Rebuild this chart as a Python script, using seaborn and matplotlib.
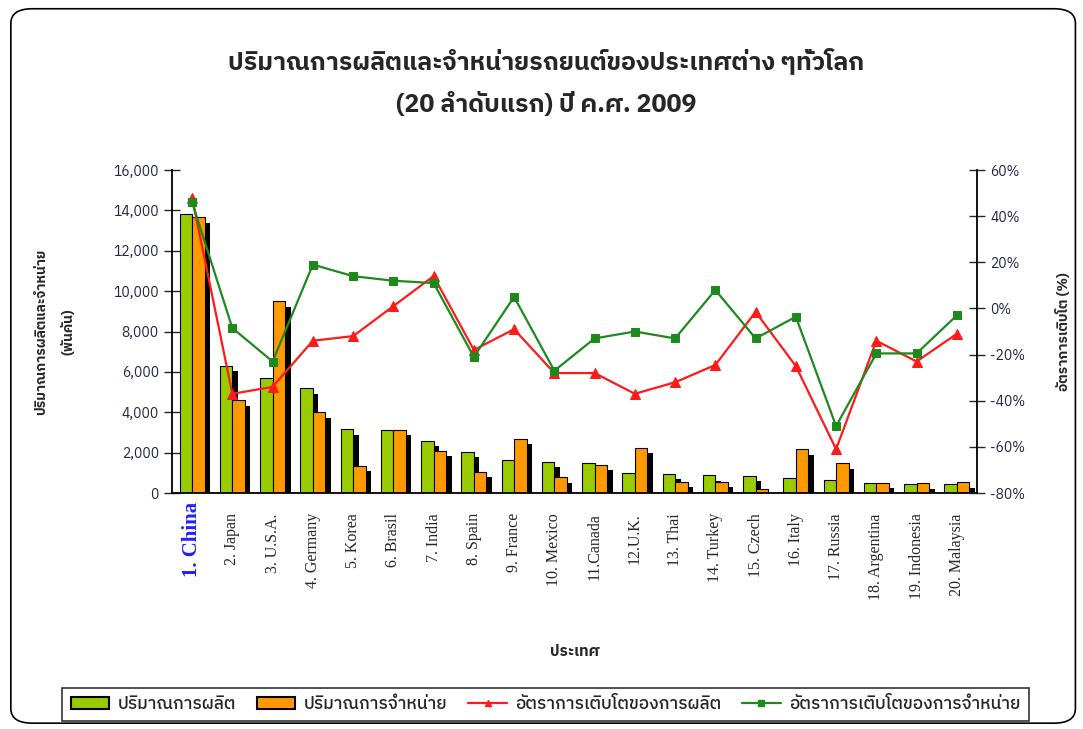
import numpy as np
import pandas as pd
import matplotlib
matplotlib.use("Agg")
import matplotlib.pyplot as plt
import matplotlib.patheffects as pe
from matplotlib import font_manager as fm
from matplotlib.patches import Patch, FancyBboxPatch
from matplotlib.lines import Line2D
from matplotlib.ticker import FuncFormatter
import seaborn as sns

# ข้อมูล (อ่านจากภาพ)
countries = ["1. China", "2. Japan", "3. U.S.A.", "4. Germany", "5. Korea", "6. Brasil",
             "7. India", "8. Spain", "9. France", "10. Mexico", "11.Canada", "12.U.K.",
             "13. Thai", "14. Turkey", "15. Czech", "16. Italy", "17. Russia",
             "18. Argentina", "19. Indonesia", "20. Malaysia"]
production = [13800, 6300, 5700, 5200, 3150, 3100, 2600, 2050, 1650, 1550,
              1500, 1000, 950, 870, 850, 720, 650, 510, 460, 470]
sales = [13650, 4600, 9500, 4000, 1350, 3140, 2100, 1050, 2700, 770,
         1400, 2250, 550, 560, 180, 2160, 1470, 510, 480, 530]
prod_growth = [48, -37, -34, -14, -12, 1, 14, -18, -9, -28,
               -28, -37, -32, -24.5, -1.5, -25, -61, -14, -23, -11]
sales_growth = [46, -8.5, -23, 19, 14, 12, 11, -21, 5, -27,
                -13, -10, -13, 8, -13, -3.6, -51, -19.5, -19.5, -3]

series_names = ["ปริมาณการผลิต", "ปริมาณการจำหน่าย",
                "อัตราการเติบโตของการผลิต", "อัตราการเติบโตของการจำหน่าย"]
title = "ปริมาณการผลิตและจำหน่ายรถยนต์ของประเทศต่าง ๆทั่วโลก\n(20 ลำดับแรก) ปี ค.ศ. 2009"

sns.set_style("white")
thai_fonts = sorted({f.name for f in fm.fontManager.ttflist if "Thai" in f.name or "Loma" in f.name or "Garuda" in f.name})
fams = thai_fonts + ["DejaVu Sans", "Noto Sans"]
plt.rcParams["font.family"] = fams

df = pd.DataFrame({
    "country": countries * 2,
    "value": production + sales,
    "series": [series_names[0]] * 20 + [series_names[1]] * 20,
})

fig = plt.figure(figsize=(10.83, 7.29), dpi=100)
ax = fig.add_axes([0.1588, 0.3237, 0.7433, 0.4431])

green = "#99cc00"
orange = "#ff9900"
sns.barplot(data=df, x="country", y="value", hue="series", palette=[green, orange],
            width=0.62, saturation=1, edgecolor="black", linewidth=0.8, ax=ax, legend=False)
for p in ax.patches:
    p.set_path_effects([pe.SimplePatchShadow(offset=(4, -4), shadow_rgbFace="black", alpha=1), pe.Normal()])

ax.set_xlim(-0.5, 19.5)
ax.set_ylim(0, 16000)
ax.set_yticks(range(0, 16001, 2000))
ax.yaxis.set_major_formatter(FuncFormatter(lambda v, p: f"{int(v):,}"))
ax.set_xlabel("ประเทศ", fontsize=11, fontweight="bold")
ax.xaxis.set_label_coords(0.5, -0.47)
ax.set_ylabel("ปริมาณการผลิตและจำหน่าย\n(พันคัน)", fontsize=10, fontweight="bold", linespacing=2.2)
ax.yaxis.set_label_coords(-0.12, 0.5)

# ticks
ax.set_xticks(np.arange(-0.5, 20, 1), minor=False)
ax.set_xticklabels([])
ax.tick_params(axis="x", direction="out", length=6, width=1)
for i, c in enumerate(countries):
    if i == 0:
        ax.text(i, -450, c, rotation=90, ha="center", va="top", fontsize=15,
                fontweight="bold", color="#2020ff", family="Liberation Serif")
    else:
        ax.text(i, -1000, c, rotation=90, ha="center", va="top", fontsize=11.5,
                family="Liberation Serif")
ax.tick_params(axis="y", direction="inout", length=12, width=1, labelsize=10,
               labelcolor="#222244")

for s in ["top", "right"]:
    ax.spines[s].set_visible(False)
for s in ["left", "bottom"]:
    ax.spines[s].set_color("black")
    ax.spines[s].set_linewidth(1.3)

ax2 = ax.twinx()
x = np.arange(20)
sns.lineplot(x=x, y=prod_growth, color="#ff1a1a", marker="^", markersize=7,
             markeredgecolor="#ff1a1a", linewidth=1.6, ax=ax2)
sns.lineplot(x=x, y=sales_growth, color="#1e8a1e", marker="s", markersize=6,
             markeredgecolor="#1e8a1e", linewidth=1.6, ax=ax2)
ax2.set_ylim(-80, 60)
ax2.set_yticks(range(-80, 61, 20))
ax2.yaxis.set_major_formatter(FuncFormatter(lambda v, p: f"{int(v)}%"))
ax2.tick_params(axis="y", direction="inout", length=12, width=1, labelsize=10,
                labelcolor="#222244")
ax2.set_ylabel("อัตราการเติบโต (%)", fontsize=10, fontweight="bold", rotation=90)
ax2.yaxis.set_label_coords(1.098, 0.5)
for s in ["top", "left", "bottom"]:
    ax2.spines[s].set_visible(False)
ax2.spines["right"].set_color("black")
ax2.spines["right"].set_linewidth(1.3)

fig.text(0.504, 0.887, title, ha="center", va="center", fontsize=18,
         fontweight="bold", linespacing=1.9)

handles = [
    Patch(facecolor=green, edgecolor="black", linewidth=1.5, label=series_names[0]),
    Patch(facecolor=orange, edgecolor="black", linewidth=1.5, label=series_names[1]),
    Line2D([], [], color="#ff1a1a", marker="^", markersize=5, linewidth=1.6, label=series_names[2]),
    Line2D([], [], color="#1e8a1e", marker="s", markersize=4, linewidth=1.6, label=series_names[3]),
]
leg = fig.legend(handles=handles, loc="center", bbox_to_anchor=(0.504, 0.034), ncol=4,
                 frameon=True, fancybox=False, edgecolor="black", fontsize=12.5,
                 handlelength=2.2, handletextpad=0.5, columnspacing=1.2,
                 borderpad=0.5)
leg.get_frame().set_linewidth(1.2)
for t in leg.get_texts():
    t.set_fontweight("medium")

frame = FancyBboxPatch((0.01, 0.008), 0.983, 0.98, boxstyle="round,pad=0,rounding_size=0.02",
                       transform=fig.transFigure, facecolor="none", edgecolor="black",
                       linewidth=1.2)
fig.patches.append(frame)

fig.savefig("out.png", dpi=100)
